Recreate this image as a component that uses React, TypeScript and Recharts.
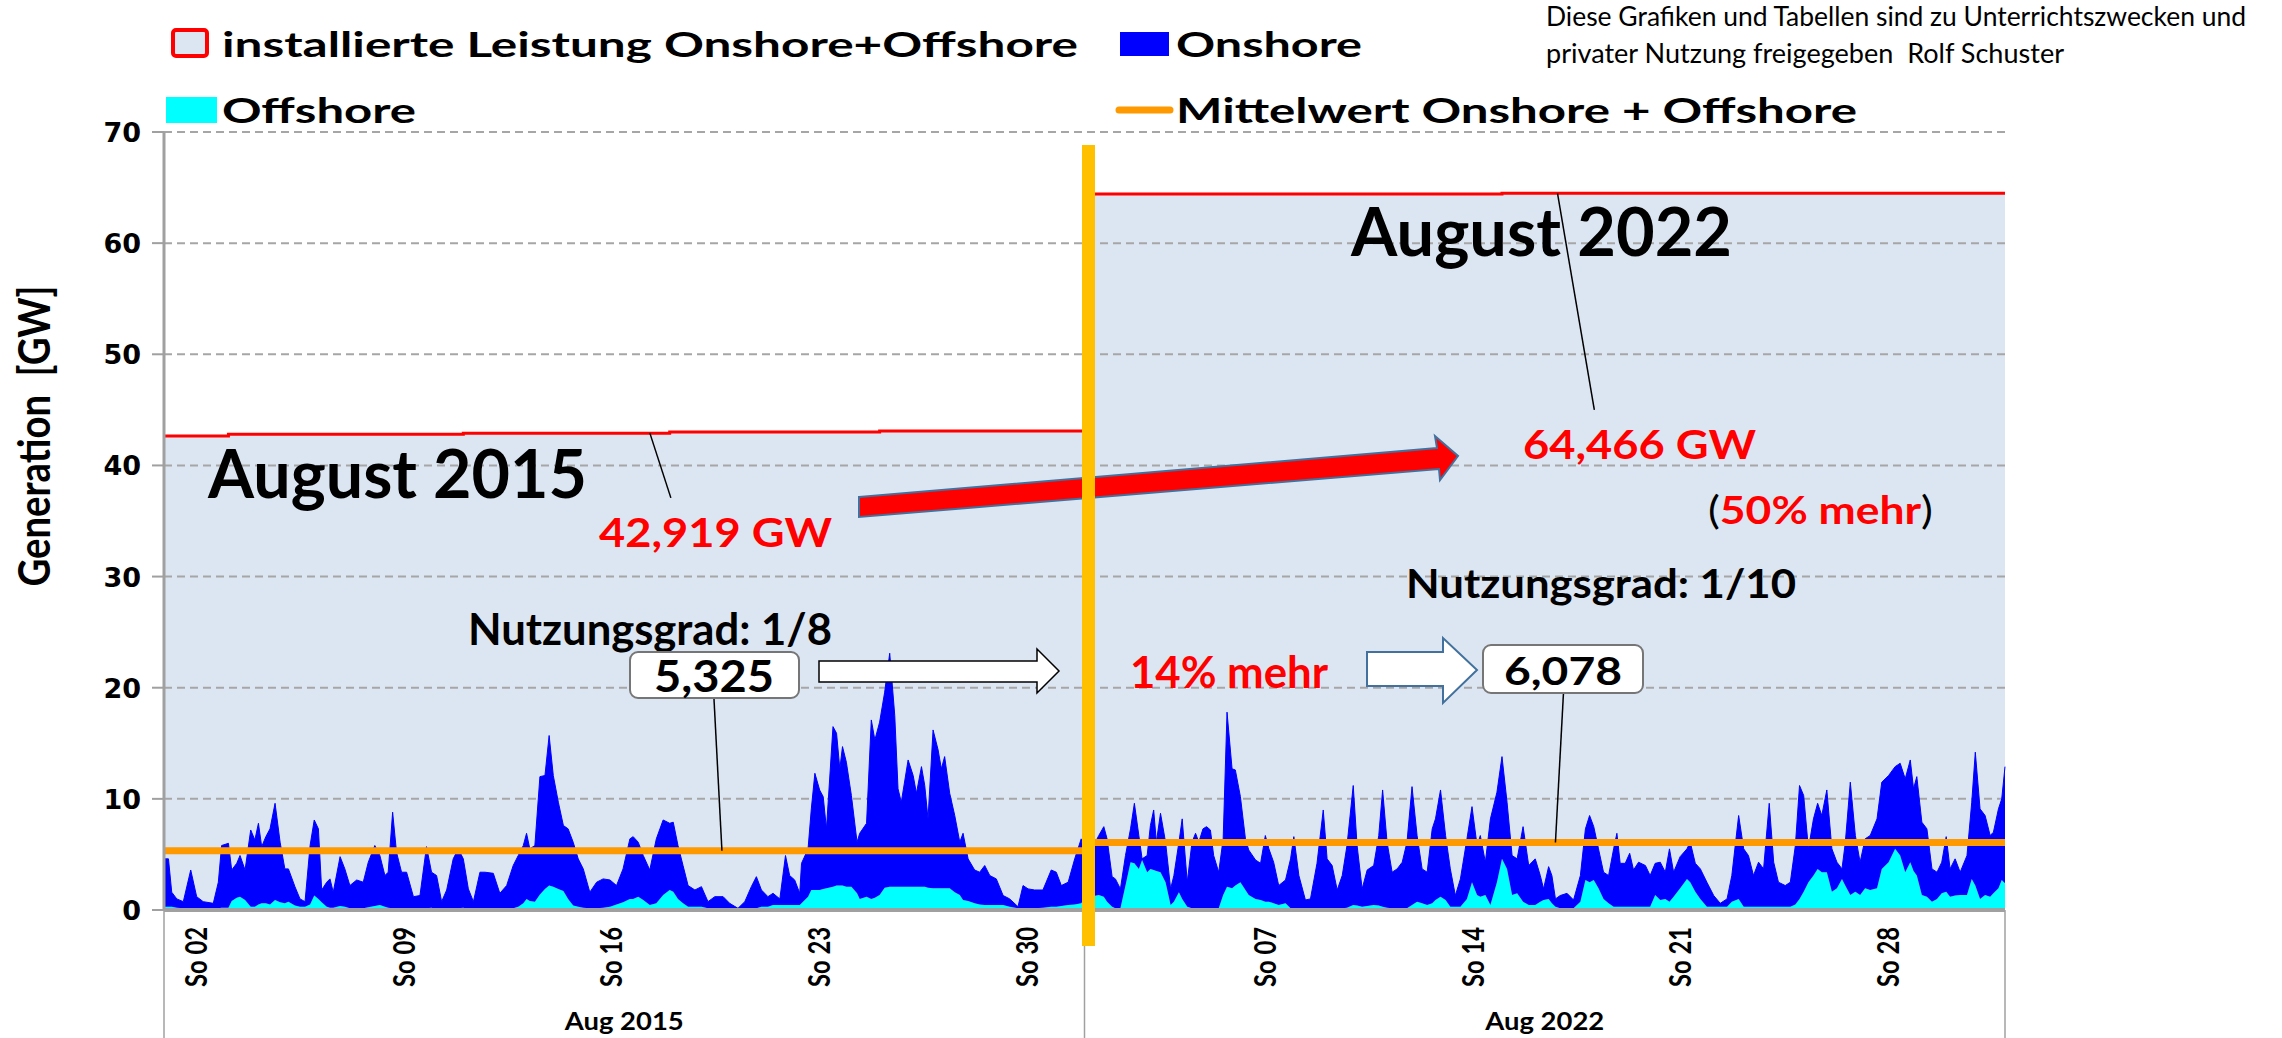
import { ComposedChart, Area, XAxis, YAxis, CartesianGrid, ReferenceLine } from "recharts"

// Zeitachse in Tagen ab Monatsanfang, Werte in GW
const tage2015 = [
  0, 0.15, 0.26, 0.43, 0.65, 0.9, 1.1, 1.32, 1.66, 1.83,
  1.94, 2.17, 2.28, 2.45, 2.56, 2.73, 2.92, 3.06, 3.18, 3.29,
  3.43, 3.57, 3.74, 3.91, 4.07, 4.19, 4.41, 4.58, 4.75, 4.92,
  5.06, 5.2, 5.31, 5.48, 5.59, 5.7, 5.93, 6.09, 6.26, 6.49,
  6.71, 6.88, 7.1, 7.27, 7.44, 7.55, 7.7, 7.83, 8.0, 8.17,
  8.4, 8.62, 8.84, 9.01, 9.18, 9.35, 9.52, 9.74, 9.91, 10.08,
  10.25, 10.42, 10.64, 10.81, 11.09, 11.31, 11.54, 11.76, 11.93, 12.1,
  12.21, 12.32, 12.49, 12.66, 12.83, 12.97, 13.11, 13.28, 13.45, 13.61,
  13.78, 13.95, 14.12, 14.34, 14.57, 14.79, 15.02, 15.24, 15.46, 15.69,
  15.8, 15.97, 16.14, 16.36, 16.58, 16.81, 17.03, 17.15, 17.31, 17.48,
  17.65, 17.88, 18.1, 18.32, 18.55, 18.83, 19.05, 19.33, 19.56, 19.78,
  19.95, 20.12, 20.34, 20.51, 20.74, 20.93, 21.07, 21.24, 21.41, 21.47,
  21.69, 21.8, 21.92, 22.08, 22.2, 22.31, 22.53, 22.65, 22.76, 22.85,
  22.98, 23.15, 23.34, 23.43, 23.66, 23.82, 23.94, 24.1, 24.27, 24.44,
  24.61, 24.72, 24.83, 25.06, 25.23, 25.34, 25.51, 25.62, 25.73, 25.9,
  26.07, 26.18, 26.29, 26.46, 26.63, 26.8, 26.91, 27.08, 27.3, 27.47,
  27.64, 27.81, 28.03, 28.26, 28.48, 28.76, 28.93, 29.1, 29.32, 29.6,
  29.88, 30.05, 30.22, 30.45, 30.67, 30.89,
]
// Onshore + Offshore (Oberkante der gestapelten Flaeche)
const gesamt2015 = [
  4.6, 4.6, 1.6, 1.0, 0.75, 3.6, 1.2, 0.75, 0.6, 2.5,
  5.8, 6.0, 3.6, 4.2, 4.9, 3.6, 7.2, 6.3, 7.8, 5.7,
  6.6, 7.3, 9.6, 6.1, 3.7, 3.7, 2.1, 1.0, 0.75, 5.8,
  8.1, 7.3, 1.8, 2.5, 2.8, 1.6, 4.8, 3.7, 2.2, 2.7,
  2.5, 4.3, 5.8, 4.9, 3.1, 3.4, 8.8, 5.2, 3.4, 3.4,
  1.2, 1.3, 5.7, 3.4, 3.1, 0.75, 1.8, 4.6, 5.5, 4.6,
  1.9, 0.75, 3.4, 3.4, 3.3, 1.5, 2.2, 4.0, 4.9, 5.8,
  6.9, 5.5, 5.8, 12.0, 12.1, 15.7, 12.1, 9.7, 7.6, 7.3,
  6.1, 4.6, 3.7, 1.6, 2.5, 2.8, 2.7, 2.2, 3.7, 6.4,
  6.6, 6.1, 4.9, 3.6, 6.4, 8.1, 7.8, 7.9, 5.8, 4.0,
  2.2, 1.8, 2.1, 0.75, 1.2, 1.2, 0.6, 0.15, 0.75, 2.1,
  3.0, 1.8, 1.2, 1.5, 1.0, 4.9, 3.1, 2.7, 1.5, 4.2,
  5.5, 9.1, 12.3, 10.8, 10.2, 7.3, 16.5, 15.9, 12.7, 14.7,
  13.3, 10.3, 6.1, 6.9, 7.8, 17.1, 15.3, 16.9, 19.6, 23.1,
  17.5, 10.9, 9.7, 13.5, 12.1, 10.5, 12.9, 11.2, 8.2, 16.2,
  14.4, 12.7, 13.8, 10.5, 8.5, 6.1, 6.9, 4.6, 3.6, 3.4,
  4.0, 3.1, 2.8, 1.3, 1.0, 0.3, 2.2, 1.9, 1.8, 1.8,
  3.6, 3.4, 2.2, 2.5, 4.6, 6.4,
]
const offshore2015 = [
  0.3, 0.3, 0.3, 0.2, 0.15, 0.15, 0.15, 0.1, 0.1, 0.15,
  0.2, 0.2, 0.8, 1.1, 1.2, 0.9, 0.3, 0.3, 0.5, 0.6,
  0.6, 0.5, 0.9, 0.7, 0.6, 0.75, 0.4, 0.3, 0.3, 0.5,
  1.3, 1.0, 0.7, 0.3, 0.2, 0.2, 0.35, 0.3, 0.15, 0.15,
  0.15, 0.25, 0.35, 0.45, 0.3, 0.2, 0.15, 0.15, 0.1, 0.1,
  0.1, 0.1, 0.15, 0.2, 0.1, 0.1, 0.1, 0.15, 0.15, 0.2,
  0.1, 0.1, 0.1, 0.1, 0.1, 0.1, 0.1, 0.15, 0.3, 0.6,
  1.0, 0.8, 0.75, 1.4, 1.9, 2.2, 2.1, 1.9, 1.7, 1.0,
  0.4, 0.3, 0.2, 0.15, 0.15, 0.2, 0.3, 0.5, 0.7, 1.0,
  1.0, 1.2, 0.9, 0.45, 0.6, 1.35, 1.8, 1.65, 1.0, 0.6,
  0.3, 0.3, 0.3, 0.15, 0.15, 0.15, 0.15, 0.1, 0.15, 0.15,
  0.15, 0.3, 0.3, 0.45, 0.45, 0.45, 0.45, 0.45, 0.45, 0.6,
  1.2, 1.8, 1.8, 1.8, 1.9, 1.95, 2.1, 2.2, 2.2, 2.2,
  2.1, 2.1, 1.5, 1.0, 1.2, 1.0, 1.1, 1.35, 2.0, 2.1,
  2.1, 2.1, 2.1, 2.1, 2.1, 2.1, 2.1, 2.1, 2.0, 1.95,
  1.95, 1.95, 1.95, 1.95, 1.6, 1.35, 0.9, 0.8, 0.6, 0.5,
  0.45, 0.45, 0.45, 0.45, 0.3, 0.15, 0.15, 0.15, 0.15, 0.2,
  0.3, 0.3, 0.35, 0.45, 0.5, 0.6,
]

const tage2022 = [
  0, 0.2, 0.48, 0.65, 0.76, 0.93, 1.04, 1.21, 1.38, 1.55,
  1.68, 1.83, 1.94, 2.11, 2.22, 2.33, 2.42, 2.56, 2.73, 2.9,
  3.01, 3.18, 3.29, 3.46, 3.62, 3.74, 3.85, 3.99, 4.11, 4.24,
  4.35, 4.52, 4.67, 4.8, 4.97, 5.08, 5.25, 5.42, 5.53, 5.76,
  5.93, 6.09, 6.21, 6.37, 6.54, 6.77, 6.94, 7.05, 7.22, 7.44,
  7.61, 7.83, 8.04, 8.17, 8.34, 8.51, 8.68, 8.84, 9.05, 9.18,
  9.35, 9.52, 9.74, 9.91, 10.04, 10.19, 10.36, 10.53, 10.7, 10.86,
  11.03, 11.2, 11.37, 11.54, 11.71, 11.82, 11.99, 12.16, 12.32, 12.49,
  12.66, 12.88, 13.05, 13.22, 13.33, 13.5, 13.67, 13.89, 14.06, 14.23,
  14.4, 14.57, 14.77, 14.96, 15.18, 15.35, 15.46, 15.63, 15.74, 15.86,
  16.02, 16.25, 16.47, 16.7, 16.87, 17.01, 17.15, 17.31, 17.48, 17.65,
  17.82, 17.93, 18.04, 18.21, 18.36, 18.49, 18.66, 18.89, 19.05, 19.22,
  19.39, 19.56, 19.7, 19.84, 20.06, 20.29, 20.4, 20.57, 20.74, 20.96,
  21.19, 21.41, 21.64, 21.8, 22.03, 22.2, 22.36, 22.53, 22.7, 22.87,
  23.06, 23.21, 23.37, 23.6, 23.77, 23.94, 24.08, 24.22, 24.38, 24.55,
  24.69, 24.83, 25.0, 25.17, 25.34, 25.51, 25.62, 25.79, 25.96, 26.12,
  26.29, 26.46, 26.69, 26.85, 27.08, 27.3, 27.47, 27.64, 27.81, 27.92,
  28.03, 28.2, 28.37, 28.54, 28.71, 28.87, 29.02, 29.15, 29.32, 29.49,
  29.72, 29.88, 30.0, 30.16, 30.33, 30.5, 30.61, 30.78, 30.89, 31.0,
]
const gesamt2022 = [
  4.5, 5.2, 6.7, 7.5, 6.4, 3.0, 2.8, 1.9, 4.9, 7.3,
  9.6, 6.7, 4.6, 4.9, 7.6, 9.0, 6.1, 8.7, 6.1, 1.9,
  3.1, 6.1, 8.2, 2.5, 6.1, 6.9, 6.1, 7.3, 7.5, 7.2,
  4.9, 3.4, 6.4, 17.8, 12.7, 12.6, 10.2, 6.4, 5.4, 4.5,
  4.2, 6.7, 5.5, 4.3, 2.2, 2.7, 4.6, 6.6, 3.1, 0.9,
  1.0, 4.2, 9.0, 4.6, 4.0, 1.8, 3.1, 5.8, 11.2, 5.8,
  1.9, 3.6, 4.0, 6.7, 10.8, 6.1, 3.4, 3.7, 4.3, 6.1,
  11.1, 6.7, 3.7, 3.4, 7.3, 8.2, 10.8, 6.7, 3.7, 1.3,
  2.8, 6.4, 9.3, 5.8, 6.7, 4.3, 8.2, 10.6, 13.8, 9.7,
  4.9, 4.6, 7.5, 4.0, 4.6, 3.1, 1.9, 3.9, 3.1, 1.0,
  1.3, 1.5, 0.9, 3.1, 7.3, 8.5, 7.5, 5.5, 3.4, 3.1,
  5.5, 6.9, 4.2, 4.2, 5.1, 3.6, 4.3, 4.0, 3.1, 4.2,
  4.3, 3.4, 5.5, 3.4, 4.8, 5.5, 6.1, 4.2, 3.7, 2.5,
  1.3, 0.6, 1.0, 3.1, 8.5, 5.5, 4.9, 3.1, 4.3, 3.7,
  9.6, 4.3, 2.5, 2.2, 2.5, 5.8, 11.2, 10.3, 5.5, 8.2,
  9.6, 8.5, 10.8, 5.5, 4.3, 3.7, 6.0, 11.5, 6.7, 4.3,
  6.4, 6.7, 8.2, 11.5, 12.1, 12.9, 13.2, 11.8, 13.5, 10.9,
  12.0, 7.9, 7.3, 3.7, 3.4, 4.3, 6.6, 3.7, 4.6, 3.4,
  4.9, 9.7, 14.2, 9.1, 8.5, 6.7, 7.0, 9.1, 10.0, 12.9,
]
const offshore2022 = [
  1.0, 1.2, 1.35, 1.2, 0.75, 0.3, 0.15, 0.15, 2.2, 4.3,
  4.2, 3.7, 4.5, 3.4, 3.7, 3.6, 3.5, 3.4, 2.5, 0.45,
  0.75, 1.6, 1.0, 0.3, 0.15, 0.15, 0.15, 0.15, 0.15, 0.15,
  0.15, 0.15, 1.35, 2.1, 1.95, 2.2, 2.5, 1.8, 1.35, 1.0,
  0.9, 0.75, 0.75, 0.6, 0.45, 0.6, 0.15, 0.15, 0.15, 0.15,
  0.15, 0.15, 0.15, 0.15, 0.15, 0.15, 0.15, 0.2, 0.45, 0.4,
  0.3, 0.35, 0.45, 0.4, 0.3, 0.2, 0.15, 0.15, 0.15, 0.15,
  0.45, 0.75, 0.6, 0.45, 0.6, 0.9, 1.2, 0.9, 0.3, 0.3,
  0.3, 1.0, 2.5, 1.35, 1.2, 1.35, 0.45, 2.5, 4.6, 3.7,
  1.35, 1.5, 0.75, 0.45, 0.45, 0.75, 0.9, 1.0, 0.6, 0.3,
  0.15, 0.15, 0.15, 0.75, 2.7, 2.5, 2.7, 1.95, 1.0, 0.6,
  0.3, 0.3, 0.3, 0.3, 0.3, 0.3, 0.3, 0.3, 0.3, 1.35,
  0.9, 1.0, 0.75, 1.2, 1.95, 2.8, 2.5, 1.65, 1.0, 0.3,
  0.3, 0.3, 0.3, 0.75, 1.0, 0.3, 0.3, 0.3, 0.3, 0.3,
  0.3, 0.3, 0.3, 0.3, 0.3, 0.5, 1.0, 1.65, 2.5, 3.1,
  3.7, 3.4, 3.4, 1.65, 1.95, 2.8, 2.2, 1.35, 1.65, 1.35,
  1.95, 1.8, 1.95, 3.7, 4.3, 5.5, 4.9, 3.4, 4.3, 3.5,
  3.1, 1.35, 1.2, 0.75, 1.0, 1.5, 1.65, 1.2, 1.3, 1.35,
  1.35, 2.8, 2.2, 1.0, 1.35, 1.2, 1.5, 1.95, 2.7, 2.4,
]

// installierte Leistung (Stufen ab Tag x)
const instTage2015 = [0, 2, 10, 17, 24]
const instWerte2015 = [42.65, 42.8, 42.9, 43.0, 43.1]
const instTage2022 = [0, 14]
const instWerte2022 = [64.42, 64.5]

const mittel2015 = 5.325
const mittel2022 = 6.078

const tagTicks = [1, 8, 15, 22, 29, 37, 44, 51, 58]
const tagLabels = ["So 02", "So 09", "So 16", "So 23", "So 30", "So 07", "So 14", "So 21", "So 28"]
const monatMitte = [15.5, 46.5]
const monatLabels = ["Aug 2015", "Aug 2022"]
const monatGrenzen = [0, 31, 62]
const yTicks = [0, 10, 20, 30, 40, 50, 60, 70]

const W = 2282
const H = 1038
const SCHRIFT = "Lato, 'Open Sans', sans-serif"

function stufe(tage: number[], werte: number[], d: number) {
  let v = werte[0]
  tage.forEach((t, i) => {
    if (d >= t) v = werte[i]
  })
  return v
}

const daten = [
  ...tage2015.map((d, i) => ({
    t: d,
    offshore: offshore2015[i],
    onshore: Math.max(0, gesamt2015[i] - offshore2015[i]),
    installiert: stufe(instTage2015, instWerte2015, d),
  })),
  ...tage2022.map((d, i) => ({
    t: 31 + d,
    offshore: offshore2022[i],
    onshore: Math.max(0, gesamt2022[i] - offshore2022[i]),
    installiert: stufe(instTage2022, instWerte2022, d),
  })),
]

const YTick = (props: any) => {
  const { x, y, payload } = props
  return (
    <text x={x} y={y + 10} textAnchor="end" fontFamily="'DejaVu Sans', Verdana, sans-serif" fontWeight={700} fontSize={27} fill="#000">
      {payload.value}
    </text>
  )
}

const TagTick = (props: any) => {
  const { x, y, payload } = props
  const i = tagTicks.indexOf(payload.value)
  const ax = x + 13
  const ay = y + 17
  return (
    <text
      x={ax}
      y={ay}
      transform={`rotate(-90 ${ax} ${ay})`}
      textAnchor="end"
      fontFamily={SCHRIFT}
      fontWeight={700}
      fontSize={30}
      textLength={60}
      lengthAdjust="spacingAndGlyphs"
      fill="#000"
    >
      {tagLabels[i]}
    </text>
  )
}

const MonatTick = (props: any) => {
  const { x, y, payload } = props
  const i = monatMitte.indexOf(payload.value)
  if (i >= 0) {
    return (
      <text x={x} y={y + 35} textAnchor="middle" fontFamily={SCHRIFT} fontWeight={700} fontSize={24} textLength={119} lengthAdjust="spacingAndGlyphs" fill="#000">
        {monatLabels[i]}
      </text>
    )
  }
  return <line x1={x} x2={x} y1={y - 85} y2={y + 43} stroke="#a0a0a0" strokeWidth={1.5} />
}

// Hintergrund: installierte Leistung als Flaeche (liegt unter dem Gitter)
function Leistung() {
  return (
    <ComposedChart width={W} height={H} data={daten} margin={{ top: 132, right: 277, bottom: 128, left: 164 }}>
      <XAxis dataKey="t" type="number" domain={[0, 62]} hide />
      <YAxis domain={[0, 70]} hide />
      <Area
        type="stepAfter"
        dataKey="installiert"
        stroke="#ff0000"
        strokeWidth={3}
        fill="#dce6f2"
        fillOpacity={1}
        dot={false}
        isAnimationActive={false}
      />
    </ComposedChart>
  )
}

function Erzeugung() {
  return (
    <ComposedChart width={W} height={H} data={daten} margin={{ top: 132, right: 277, bottom: 0, left: 0 }}>
      <CartesianGrid horizontal vertical={false} stroke="#a6a6a6" strokeWidth={2} strokeDasharray="8 5" />
      <XAxis
        dataKey="t"
        type="number"
        domain={[0, 62]}
        ticks={tagTicks}
        interval={0}
        height={85}
        tick={<TagTick />}
        tickLine={false}
        tickSize={0}
        tickMargin={0}
        axisLine={{ stroke: "#a0a0a0", strokeWidth: 4 }}
      />
      <XAxis
        xAxisId="monat"
        dataKey="t"
        type="number"
        domain={[0, 62]}
        ticks={[...monatGrenzen, ...monatMitte].sort((a, b) => a - b)}
        interval={0}
        height={43}
        tick={<MonatTick />}
        tickLine={false}
        tickSize={0}
        tickMargin={0}
        axisLine={false}
      />
      <YAxis
        width={164}
        domain={[0, 70]}
        ticks={yTicks}
        interval={0}
        tick={<YTick />}
        tickSize={12}
        tickMargin={11}
        tickLine={{ stroke: "#a0a0a0", strokeWidth: 2 }}
        axisLine={{ stroke: "#a0a0a0", strokeWidth: 3 }}
      />
      <Area type="linear" dataKey="offshore" stackId="s" stroke="none" fill="#00ffff" fillOpacity={1} dot={false} isAnimationActive={false} />
      <Area type="linear" dataKey="onshore" stackId="s" stroke="#0000ff" strokeWidth={1} fill="#0000ff" fillOpacity={1} dot={false} isAnimationActive={false} />
      <ReferenceLine segment={[{ x: 0, y: mittel2015 }, { x: 31, y: mittel2015 }]} stroke="#ff9900" strokeWidth={7} />
      <ReferenceLine segment={[{ x: 31, y: mittel2022 }, { x: 62, y: mittel2022 }]} stroke="#ff9900" strokeWidth={7} />
      {/* Hinweislinien */}
      <ReferenceLine segment={[{ x: 16.36, y: 42.93 }, { x: 17.07, y: 37.08 }]} stroke="#000" strokeWidth={1.5} />
      <ReferenceLine segment={[{ x: 46.93, y: 64.47 }, { x: 48.17, y: 45.0 }]} stroke="#000" strokeWidth={1.5} />
      <ReferenceLine segment={[{ x: 18.52, y: 19.1 }, { x: 18.79, y: mittel2015 }]} stroke="#000" strokeWidth={1.5} />
      <ReferenceLine segment={[{ x: 47.13, y: 19.5 }, { x: 46.86, y: mittel2022 }]} stroke="#000" strokeWidth={1.5} />
    </ComposedChart>
  )
}

function Beschriftung() {
  const fett = { fontFamily: SCHRIFT, fontWeight: 700, lengthAdjust: "spacingAndGlyphs" } as const
  return (
    <svg width={W} height={H} style={{ position: "absolute", left: 0, top: 0, pointerEvents: "none" }}>
      {/* Legende */}
      <rect x={173} y={30} width={34} height={26} rx={3} fill="#dce6f2" stroke="#ff0000" strokeWidth={4} />
      <text x={222} y={57} fontSize={35} textLength={856} {...fett}>installierte Leistung Onshore+Offshore</text>
      <rect x={1120} y={32} width={49} height={24} fill="#0000ff" />
      <text x={1176} y={57} fontSize={35} textLength={186} {...fett}>Onshore</text>
      <rect x={166} y={97} width={51} height={26} fill="#00ffff" />
      <text x={222} y={123} fontSize={35} textLength={194} {...fett}>Offshore</text>
      <line x1={1119} x2={1170} y1={110} y2={110} stroke="#ff9900" strokeWidth={7} strokeLinecap="round" />
      <text x={1176} y={123} fontSize={35} textLength={681} {...fett}>Mittelwert Onshore + Offshore</text>

      {/* Hinweis */}
      <text x={1546} y={26} fontFamily={SCHRIFT} fontSize={26} textLength={700} lengthAdjust="spacingAndGlyphs">
        Diese Grafiken und Tabellen sind zu Unterrichtszwecken und
      </text>
      <text x={1546} y={63} fontFamily={SCHRIFT} fontSize={26} textLength={518} lengthAdjust="spacingAndGlyphs" style={{ whiteSpace: "pre" }}>
        privater Nutzung freigegeben  Rolf Schuster
      </text>

      {/* Achsentitel */}
      <text x={50} y={436} transform="rotate(-90 50 436)" textAnchor="middle" fontSize={44} textLength={301} style={{ whiteSpace: "pre" }} {...fett}>
        Generation  [GW]
      </text>

      {/* Annotationen */}
      <text x={208} y={498} fontSize={66} textLength={379} {...fett}>August 2015</text>
      <text x={1351} y={256} fontSize={67} textLength={381} {...fett}>August 2022</text>
      <text x={599} y={547} fontSize={41} textLength={233} fill="#ff0000" {...fett}>42,919 GW</text>
      <text x={1523} y={459} fontSize={41} textLength={233} fill="#ff0000" {...fett}>64,466 GW</text>
      <text x={1708} y={524} fontSize={39} textLength={225} {...fett}>
        <tspan fill="#000" fontWeight={400}>(</tspan>
        <tspan fill="#ff0000">50% mehr</tspan>
        <tspan fill="#000" fontWeight={400}>)</tspan>
      </text>
      <text x={1406} y={598} fontSize={41} textLength={390} {...fett}>Nutzungsgrad: 1/10</text>
      <text x={468} y={645} fontSize={43} textLength={364} {...fett}>Nutzungsgrad: 1/8</text>
      <text x={1130} y={688} fontSize={43} textLength={198} fill="#ff0000" {...fett}>14% mehr</text>

      <rect x={630} y={652} width={169} height={46} rx={8} fill="#fff" stroke="#767676" strokeWidth={2} />
      <text x={714} y={692} fontSize={43} textAnchor="middle" textLength={120} {...fett}>5,325</text>
      <rect x={1483} y={645} width={160} height={48} rx={8} fill="#fff" stroke="#767676" strokeWidth={2} />
      <text x={1563} y={685} fontSize={39} textAnchor="middle" textLength={118} {...fett}>6,078</text>

      <polygon points="819,661 1037,661 1037,649 1059,671 1037,693 1037,682 819,682" fill="#fff" stroke="#000" strokeWidth={1.5} />
      <polygon points="1367,652 1443,652 1443,638 1477,670 1443,703 1443,686 1367,686" fill="#fff" stroke="#41719c" strokeWidth={2} />
      <polygon points="859,497 1437,448 1435,436 1458,456 1440,480 1439,469 859,517" fill="#ff0000" stroke="#41719c" strokeWidth={2} />

      {/* senkrechter Trennbalken */}
      <rect x={1082} y={145} width={13} height={801} fill="#ffc000" />
    </svg>
  )
}

export default function App() {
  return (
    <div style={{ position: "absolute", left: 0, top: 0, width: W, height: H, background: "#fff", overflow: "hidden" }}>
      <div style={{ position: "absolute", left: 0, top: 0 }}>
        <Leistung />
      </div>
      <div style={{ position: "absolute", left: 0, top: 0 }}>
        <Erzeugung />
      </div>
      <Beschriftung />
    </div>
  )
}
